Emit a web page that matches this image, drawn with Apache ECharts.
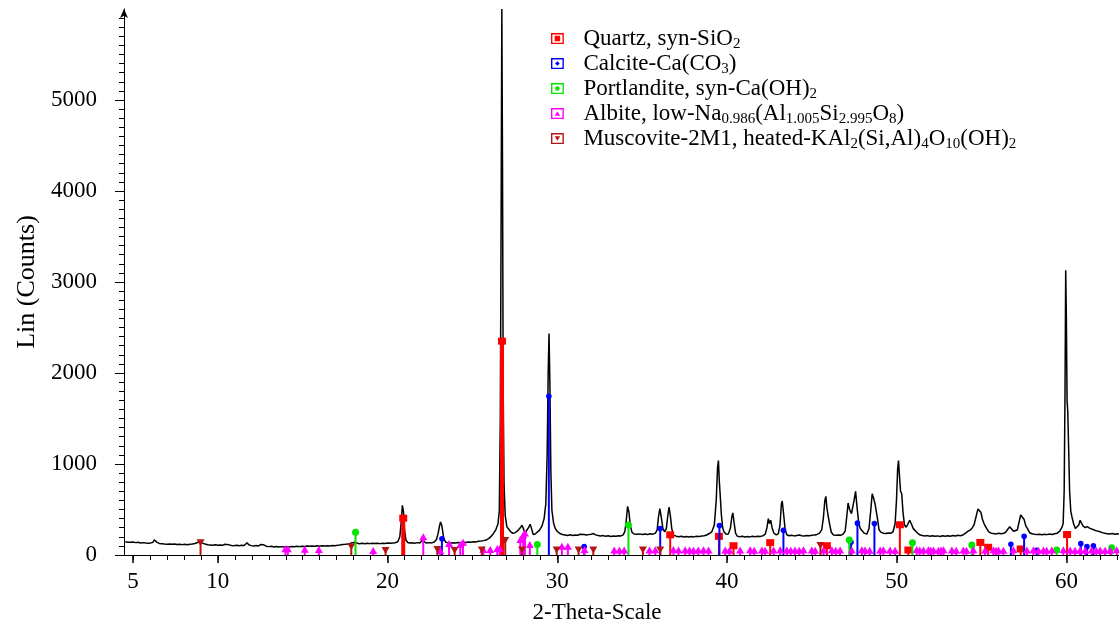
<!DOCTYPE html>
<html>
<head>
<meta charset="utf-8">
<title>XRD pattern</title>
<script src="https://cdn.jsdelivr.net/npm/echarts@6/dist/echarts.min.js"></script>
<style>
  html, body { margin: 0; padding: 0; background: #fff; }
  #xrd { width: 1119px; height: 630px; }
</style>
</head>
<body>
<div id="xrd"></div>
<script>
// measured pattern (2-theta, counts)
const twoTheta = [
  4.55, 4.7, 4.85, 5.0, 5.15, 5.3, 5.45, 5.6, 5.75, 5.9, 6.05, 6.18, 6.25, 6.32, 6.4, 6.55, 6.7, 6.85, 7.0, 7.15,
  7.3, 7.45, 7.6, 7.75, 7.9, 8.05, 8.2, 8.35, 8.5, 8.65, 8.8, 8.95, 9.1, 9.25, 9.4, 9.55, 9.7, 9.85, 10.0, 10.15,
  10.3, 10.42, 10.52, 10.62, 10.8, 10.95, 11.1, 11.25, 11.4, 11.55, 11.65, 11.72, 11.82, 11.95, 12.1, 12.25, 12.4, 12.52, 12.6, 12.7,
  12.85, 13.0, 13.15, 13.3, 13.45, 13.6, 13.75, 13.9, 14.05, 14.2, 14.35, 14.5, 14.65, 14.8, 14.95, 15.1, 15.25, 15.4, 15.55, 15.7,
  15.85, 16.0, 16.15, 16.3, 16.45, 16.6, 16.75, 16.9, 17.05, 17.2, 17.35, 17.5, 17.65, 17.8, 17.92, 18.0, 18.1, 18.22, 18.35, 18.5,
  18.65, 18.8, 18.95, 19.1, 19.25, 19.4, 19.55, 19.7, 19.85, 20.0, 20.15, 20.3, 20.45, 20.6, 20.72, 20.8, 20.87, 20.94, 21.0, 21.08,
  21.18, 21.3, 21.45, 21.6, 21.75, 21.9, 22.0, 22.08, 22.18, 22.3, 22.45, 22.6, 22.75, 22.88, 22.98, 23.06, 23.12, 23.2, 23.3, 23.42,
  23.55, 23.7, 23.85, 24.0, 24.15, 24.3, 24.45, 24.6, 24.75, 24.9, 25.05, 25.2, 25.35, 25.5, 25.65, 25.8, 25.95, 26.1, 26.24, 26.38,
  26.5, 26.58, 26.64, 26.69, 26.73, 26.77, 26.81, 26.86, 26.93, 27.03, 27.15, 27.28, 27.4, 27.52, 27.64, 27.74, 27.84, 27.92, 28.0, 28.1,
  28.2, 28.3, 28.4, 28.48, 28.58, 28.7, 28.82, 28.95, 29.1, 29.22, 29.32, 29.4, 29.46, 29.51, 29.56, 29.62, 29.68, 29.78, 29.88, 30.0,
  30.15, 30.3, 30.45, 30.6, 30.75, 30.9, 31.05, 31.2, 31.35, 31.45, 31.58, 31.72, 31.85, 32.0, 32.13, 32.25, 32.4, 32.55, 32.7, 32.85,
  33.0, 33.15, 33.3, 33.45, 33.6, 33.75, 33.88, 33.98, 34.06, 34.14, 34.22, 34.3, 34.4, 34.52, 34.68, 34.84, 35.0, 35.16, 35.32, 35.48,
  35.64, 35.78, 35.88, 35.96, 36.04, 36.12, 36.22, 36.32, 36.42, 36.5, 36.58, 36.66, 36.74, 36.84, 37.0, 37.15, 37.3, 37.45, 37.6, 37.75,
  37.9, 38.05, 38.2, 38.35, 38.5, 38.65, 38.8, 38.95, 39.1, 39.25, 39.36, 39.44, 39.49, 39.54, 39.59, 39.66, 39.74, 39.82, 39.95, 40.08,
  40.2, 40.28, 40.34, 40.41, 40.5, 40.6, 40.75, 40.9, 41.05, 41.2, 41.35, 41.5, 41.65, 41.8, 41.95, 42.1, 42.25, 42.35, 42.43, 42.5,
  42.57, 42.65, 42.76, 42.9, 43.02, 43.12, 43.2, 43.25, 43.32, 43.42, 43.52, 43.65, 43.8, 43.95, 44.1, 44.25, 44.4, 44.55, 44.7, 44.85,
  45.0, 45.15, 45.3, 45.45, 45.58, 45.68, 45.76, 45.82, 45.88, 45.94, 45.98, 46.05, 46.14, 46.27, 46.42, 46.57, 46.72, 46.85, 46.96, 47.05,
  47.13, 47.22, 47.33, 47.42, 47.5, 47.57, 47.65, 47.75, 47.85, 47.94, 48.08, 48.23, 48.36, 48.46, 48.55, 48.64, 48.72, 48.78, 48.86, 48.95,
  49.05, 49.2, 49.35, 49.5, 49.65, 49.78, 49.9, 49.98, 50.05, 50.1, 50.16, 50.22, 50.29, 50.36, 50.45, 50.55, 50.65, 50.76, 50.86, 50.97,
  51.08, 51.2, 51.35, 51.5, 51.65, 51.8, 51.95, 52.1, 52.25, 52.4, 52.55, 52.7, 52.85, 53.0, 53.15, 53.3, 53.45, 53.6, 53.75, 53.9,
  54.05, 54.2, 54.32, 54.45, 54.55, 54.68, 54.78, 54.86, 54.95, 55.05, 55.15, 55.28, 55.42, 55.56, 55.7, 55.85, 56.0, 56.15, 56.3, 56.42,
  56.55, 56.65, 56.75, 56.87, 56.98, 57.1, 57.2, 57.3, 57.4, 57.5, 57.6, 57.7, 57.82, 57.96, 58.1, 58.25, 58.4, 58.55, 58.7, 58.85,
  59.0, 59.15, 59.3, 59.45, 59.6, 59.72, 59.8, 59.86, 59.91, 59.95, 59.99, 60.03, 60.07, 60.12, 60.18, 60.25, 60.32, 60.42, 60.52, 60.62,
  60.72, 60.8, 60.88, 60.98, 61.1, 61.22, 61.35, 61.48, 61.6, 61.72, 61.85, 61.97, 62.1, 62.25, 62.4, 62.55, 62.7, 62.85, 63.0, 63.09
];
const counts = [
  146, 141, 139, 143, 136, 139, 133, 136, 131, 129, 133, 140, 168, 182, 142, 127, 124, 120, 118, 122,
  117, 120, 115, 119, 114, 118, 113, 119, 121, 127, 138, 146, 131, 120, 113, 110, 107, 112, 106, 110,
  108, 118, 128, 114, 105, 103, 108, 102, 106, 104, 118, 134, 112, 103, 99, 104, 100, 115, 134, 112,
  97, 92, 95, 89, 93, 88, 92, 87, 91, 88, 93, 90, 95, 92, 97, 94, 99, 95, 100, 96,
  101, 97, 102, 98, 101, 99, 104, 102, 107, 110, 115, 117, 120, 126, 136, 147, 141, 129, 124, 128,
  124, 129, 125, 130, 126, 129, 125, 130, 127, 131, 128, 133, 135, 146, 200, 360, 545, 470, 270, 165,
  138, 131, 135, 130, 136, 133, 148, 170, 142, 132, 136, 133, 142, 170, 240, 320, 364, 318, 190, 142,
  133, 129, 135, 131, 138, 134, 141, 137, 143, 139, 145, 143, 150, 153, 158, 164, 180, 205, 237, 280,
  340, 480, 1500, 3800, 6000, 4300, 1800, 780, 430, 309, 280, 250, 238, 246, 262, 280, 305, 328, 290, 242,
  258, 300, 338, 290, 225, 230, 252, 273, 320, 400, 560, 1100, 2000, 2435, 1900, 900, 491, 350, 291, 258,
  237, 226, 220, 214, 222, 215, 220, 217, 228, 237, 226, 219, 224, 229, 236, 221, 214, 209, 213, 206,
  211, 204, 209, 206, 212, 210, 222, 260, 380, 535, 470, 320, 248, 231, 227, 232, 225, 231, 226, 233,
  229, 240, 275, 420, 510, 420, 290, 255, 290, 420, 527, 430, 290, 218, 207, 201, 206, 198, 203, 197,
  204, 199, 205, 202, 209, 212, 220, 236, 255, 330, 600, 960, 1037, 820, 673, 450, 300, 252, 228, 232,
  300, 420, 462, 360, 240, 206, 201, 205, 198, 203, 199, 205, 201, 207, 203, 210, 230, 300, 400, 345,
  382, 300, 240, 220, 235, 330, 560, 593, 470, 280, 222, 212, 217, 210, 215, 220, 212, 209, 214, 211,
  216, 219, 226, 240, 280, 420, 600, 644, 520, 445, 437, 330, 250, 220, 216, 221, 218, 232, 265, 420,
  571, 500, 455, 470, 620, 699, 540, 360, 290, 273, 240, 229, 290, 480, 673, 620, 560, 546, 400, 280,
  252, 240, 236, 242, 238, 256, 346, 600, 950, 1037, 860, 700, 673, 480, 330, 305, 340, 382, 340, 290,
  273, 245, 222, 214, 209, 213, 206, 211, 205, 210, 204, 211, 207, 212, 206, 214, 209, 216, 212, 220,
  240, 262, 273, 300, 330, 430, 505, 520, 470, 390, 340, 295, 255, 240, 235, 232, 240, 233, 238, 252,
  285, 310, 290, 262, 255, 275, 360, 440, 455, 390, 320, 290, 245, 233, 229, 224, 228, 222, 229, 224,
  231, 225, 233, 240, 262, 300, 346, 700, 1800, 3130, 2600, 1700, 1583, 1200, 700, 480, 418, 340, 290, 275,
  330, 382, 350, 318, 300, 312, 295, 285, 278, 268, 262, 255, 246, 238, 234, 230, 236, 229, 234, 231
];

// reference sticks per phase: [2-theta, counts]
const quartz = [[20.92, 405], [26.74, 2350], [36.65, 222], [39.52, 205], [40.38, 102], [42.54, 136], [45.88, 102],
  [50.18, 332], [50.68, 55], [54.92, 138], [55.38, 85], [57.3, 66], [60.03, 225]];
const calcite = [[23.2, 178], [29.5, 1745], [31.58, 92], [36.06, 290], [39.55, 325], [43.32, 272], [47.3, 140],
  [47.68, 350], [48.68, 345], [56.72, 118], [57.5, 205], [58.24, 52], [60.84, 125], [61.2, 92], [61.58, 100]];
const portlandite = [[18.11, 250], [28.82, 115], [34.19, 330], [47.2, 165], [50.92, 135], [54.42, 110], [59.42, 55], [62.66, 80]];
const albite = [[13.98, 62], [14.12, 62], [15.12, 58], [15.95, 55], [19.15, 45], [22.1, 195], [23.1, 45], [23.62, 120],
  [24.28, 110], [24.44, 135], [25.64, 55], [26.05, 55], [26.46, 65], [26.6, 65], [27.82, 165], [27.99, 215], [28.09, 235],
  [28.38, 110], [30.27, 90], [30.62, 90], [31.6, 55], [33.35, 50], [33.66, 50], [33.94, 50], [35.43, 50], [35.77, 52],
  [36.84, 55], [37.14, 50], [37.53, 52], [37.79, 50], [38.02, 48], [38.3, 50], [38.61, 52], [38.91, 50], [39.89, 50],
  [40.14, 48], [40.77, 50], [41.36, 52], [41.6, 48], [42.05, 50], [42.24, 48], [42.74, 50], [43.13, 52], [43.52, 50],
  [43.75, 48], [44.0, 50], [44.25, 48], [44.5, 52], [44.99, 50], [45.19, 48], [45.68, 50], [46.17, 52], [46.4, 48],
  [46.66, 50], [47.35, 50], [47.94, 52], [48.13, 50], [48.4, 48], [49.02, 50], [49.21, 52], [49.6, 50], [49.9, 48],
  [51.17, 55], [51.35, 50], [51.57, 50], [51.86, 52], [52.0, 48], [52.16, 50], [52.45, 48], [52.6, 50], [52.75, 52],
  [53.24, 50], [53.5, 48], [53.92, 50], [54.1, 48], [54.51, 52], [55.2, 50], [55.69, 52], [55.85, 48], [55.99, 50],
  [56.28, 48], [56.87, 52], [57.66, 50], [58.05, 52], [58.35, 48], [58.64, 50], [58.83, 48], [59.13, 50], [59.81, 52],
  [60.21, 50], [60.5, 48], [60.8, 50], [61.1, 48], [61.48, 52], [61.75, 48], [61.98, 50], [62.27, 48], [62.57, 50], [62.96, 52]];
const muscovite = [[8.98, 140], [17.86, 95], [19.88, 55], [22.93, 65], [23.95, 55], [25.55, 60], [26.93, 165], [27.92, 60],
  [29.96, 60], [31.25, 60], [32.12, 60], [35.04, 60], [36.06, 60], [45.5, 110]];

// axis ticks / labels
const xLabelValues = [5, 10, 20, 30, 40, 50, 60];
const xMinorValues = [5, 6, 7, 8, 9, 10, 11, 12, 13, 14, 15, 16, 17, 18, 19, 20, 21, 22, 23, 24, 25, 26, 27, 28, 29, 30,
  31, 32, 33, 34, 35, 36, 37, 38, 39, 40, 41, 42, 43, 44, 45, 46, 47, 48, 49, 50, 51, 52, 53, 54, 55, 56, 57, 58, 59, 60, 61, 62, 63];
const yLabelValues = [0, 1000, 2000, 3000, 4000, 5000];

const FONT = "'Liberation Serif', 'Times New Roman', serif";
const RING = "M0,0H14V12H0Z M1.5,1.5V10.5H12.5V1.5Z ";

const phases = [
  { name: "Quartz, syn-SiO2", data: quartz, color: "#ff0000", mark: "square",
    label: "{f|Quartz, syn-SiO}{s|2}", icon: RING + "M4,3H10V9H4Z" },
  { name: "Calcite-Ca(CO3)", data: calcite, color: "#0000ff", mark: "dot",
    label: "{f|Calcite-Ca(CO}{s|3}{t|)}", icon: RING + "M7,3.5L9.5,6L7,8.5L4.5,6Z" },
  { name: "Portlandite, syn-Ca(OH)2", data: portlandite, color: "#00e600", mark: "circle",
    label: "{f|Portlandite, syn-Ca(OH)}{s|2}", icon: RING + "M4.5,6A2.5,2.5,0,1,1,9.5,6A2.5,2.5,0,1,1,4.5,6Z" },
  { name: "Albite, low-Na0.986(Al1.005Si2.995O8)", data: albite, color: "#ff00ff", mark: "up",
    label: "{f|Albite, low-Na}{s|0.986}{t|(Al}{s|1.005}{t|Si}{s|2.995}{t|O}{s|8}{t|)}", icon: RING + "M7,3.5L10,8.5H4Z" },
  { name: "Muscovite-2M1, heated-KAl2(Si,Al)4O10(OH)2", data: muscovite, color: "#b41414", mark: "down",
    label: "{f|Muscovite-2M1, heated-KAl}{s|2}{t|(Si,Al)}{s|4}{t|O}{s|10}{t|(OH)}{s|2}", icon: RING + "M4,3.5H10L7,8.5Z" },
];

function marker(kind, p, color) {
  const cx = p[0], cy = p[1];
  if (kind === "square") return { type: "rect", shape: { x: cx - 4, y: cy - 3.5, width: 8, height: 7 }, style: { fill: color } };
  if (kind === "dot") return { type: "circle", shape: { cx, cy, r: 2.8 }, style: { fill: color } };
  if (kind === "circle") return { type: "circle", shape: { cx, cy, r: 3.5 }, style: { fill: color } };
  if (kind === "up") return { type: "polygon", shape: { points: [[cx, cy - 4], [cx + 4, cy + 3], [cx - 4, cy + 3]] }, style: { fill: color } };
  return { type: "polygon", shape: { points: [[cx - 4, cy - 3], [cx + 4, cy - 3], [cx, cy + 4]] }, style: { fill: color } };
}

function stickSeries(ph) {
  return {
    name: ph.name,
    type: "custom",
    itemStyle: { color: ph.color },
    data: ph.data,
    encode: { x: 0, y: 1 },
    renderItem(params, api) {
      const x = api.value(0), h = api.value(1);
      const base = api.coord([x, 0]);
      const top = api.coord([x, h]);
      const lw = ph.mark === "square" && h >= 400 ? 4 : 2;
      return {
        type: "group",
        children: [
          { type: "line", shape: { x1: base[0], y1: base[1], x2: top[0], y2: top[1] }, style: { stroke: ph.color, lineWidth: lw } },
          marker(ph.mark, top, ph.color),
        ],
      };
    },
  };
}

const labelMap = {};
phases.forEach((p) => (labelMap[p.name] = p.label));

const axisFont = { fontFamily: FONT, fontSize: 23, color: "#000" };

const option = {
  backgroundColor: "#fff",
  animation: false,
  grid: { left: 124, right: 0, top: 9, bottom: 75 },
  legend: {
    orient: "vertical",
    left: 546,
    top: 22,
    itemWidth: 14,
    itemHeight: 11,
    itemGap: 0.5,
    selectedMode: false,
    data: phases.map((p) => ({ name: p.name, icon: "path://" + p.icon })),
    formatter: (name) => labelMap[name],
    textStyle: {
      fontFamily: FONT,
      color: "#000",
      rich: {
        f: { fontFamily: FONT, fontSize: 23, lineHeight: 26, color: "#000", padding: [0, 0, 0, 14] },
        t: { fontFamily: FONT, fontSize: 23, lineHeight: 26, color: "#000" },
        s: { fontFamily: FONT, fontSize: 15, lineHeight: 15, color: "#000", verticalAlign: "bottom" },
      },
    },
  },
  xAxis: [
    {
      type: "value",
      min: 4.47,
      max: 63.09,
      name: "2-Theta-Scale",
      nameLocation: "middle",
      nameGap: 46,
      nameTextStyle: { fontFamily: FONT, fontSize: 23, color: "#000", padding: [0, 49, 0, 0] },
      axisLine: { show: true, onZero: false, lineStyle: { color: "#000", width: 1 } },
      axisTick: { show: true, length: 8, customValues: xLabelValues, lineStyle: { color: "#000", width: 1.5 } },
      axisLabel: { ...axisFont, margin: 15, customValues: xLabelValues, formatter: (v) => String(v) },
      splitLine: { show: false },
    },
    {
      type: "value",
      position: "bottom",
      min: 4.47,
      max: 63.09,
      axisLine: { show: false },
      axisTick: { show: true, length: 5, customValues: xMinorValues, lineStyle: { color: "#000", width: 1 } },
      axisLabel: { show: false },
      splitLine: { show: false },
    },
  ],
  yAxis: [
    {
      type: "value",
      min: 0,
      max: 6000,
      name: "Lin (Counts)",
      nameLocation: "middle",
      nameGap: 76,
      nameTextStyle: { fontFamily: FONT, fontSize: 26, color: "#000" },
      axisLine: { show: true, symbol: ["none", "arrow"], symbolSize: [6, 9], lineStyle: { color: "#000", width: 1 } },
      axisTick: { show: true, length: 9, customValues: yLabelValues, lineStyle: { color: "#000" } },
      minorTick: { show: false },
      axisLabel: { ...axisFont, margin: 27, customValues: yLabelValues, formatter: (v) => String(v) },
      splitLine: { show: false },
    },
  ],
  series: [
    {
      name: "pattern",
      type: "line",
      xAxisIndex: 0,
      data: twoTheta.map((t, i) => [t, counts[i]]),
      showSymbol: false,
      symbol: "none",
      lineStyle: { color: "#000", width: 1.5 },
      z: 2,
    },
    ...phases.map((p) => ({ ...stickSeries(p), xAxisIndex: 0, z: 3 })),
  ],
};

// minor y ticks every 100 counts
const yMinor = [];
for (let v = 0; v <= 5900; v += 100) yMinor.push(v);
option.yAxis.push({
  type: "value",
  position: "left",
  min: 0,
  max: 6000,
  axisLine: { show: false },
  axisTick: { show: true, length: 5, customValues: yMinor, lineStyle: { color: "#000" } },
  axisLabel: { show: false },
  splitLine: { show: false },
});

const chart = echarts.init(document.getElementById("xrd"), null, { renderer: "canvas" });
chart.setOption(option);
</script>
</body>
</html>
